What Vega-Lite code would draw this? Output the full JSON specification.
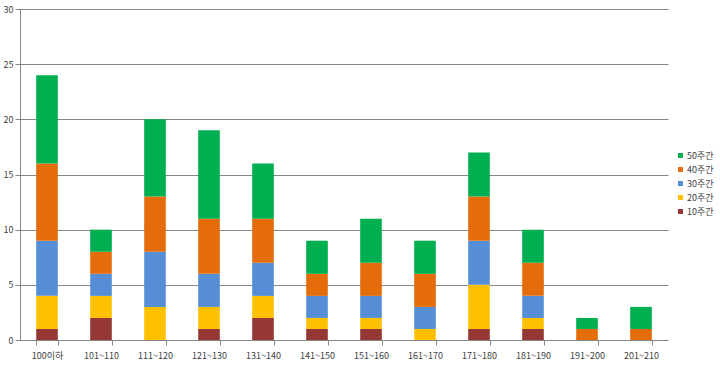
{
  "$schema": "https://vega.github.io/schema/vega-lite/v6.json",
  "width": 648,
  "height": 331,
  "autosize": {"type": "none"},
  "padding": {"left": 20, "top": 9, "right": 52, "bottom": 26},
  "background": "white",
  "config": {
    "view": {"stroke": null},
    "font": "Noto Sans CJK KR"
  },
  "data": {
    "values": [
      {"g": "100이하", "s": "10주간", "v": 1}, {"g": "100이하", "s": "20주간", "v": 3}, {"g": "100이하", "s": "30주간", "v": 5}, {"g": "100이하", "s": "40주간", "v": 7}, {"g": "100이하", "s": "50주간", "v": 8},
      {"g": "101~110", "s": "10주간", "v": 2}, {"g": "101~110", "s": "20주간", "v": 2}, {"g": "101~110", "s": "30주간", "v": 2}, {"g": "101~110", "s": "40주간", "v": 2}, {"g": "101~110", "s": "50주간", "v": 2},
      {"g": "111~120", "s": "10주간", "v": 0}, {"g": "111~120", "s": "20주간", "v": 3}, {"g": "111~120", "s": "30주간", "v": 5}, {"g": "111~120", "s": "40주간", "v": 5}, {"g": "111~120", "s": "50주간", "v": 7},
      {"g": "121~130", "s": "10주간", "v": 1}, {"g": "121~130", "s": "20주간", "v": 2}, {"g": "121~130", "s": "30주간", "v": 3}, {"g": "121~130", "s": "40주간", "v": 5}, {"g": "121~130", "s": "50주간", "v": 8},
      {"g": "131~140", "s": "10주간", "v": 2}, {"g": "131~140", "s": "20주간", "v": 2}, {"g": "131~140", "s": "30주간", "v": 3}, {"g": "131~140", "s": "40주간", "v": 4}, {"g": "131~140", "s": "50주간", "v": 5},
      {"g": "141~150", "s": "10주간", "v": 1}, {"g": "141~150", "s": "20주간", "v": 1}, {"g": "141~150", "s": "30주간", "v": 2}, {"g": "141~150", "s": "40주간", "v": 2}, {"g": "141~150", "s": "50주간", "v": 3},
      {"g": "151~160", "s": "10주간", "v": 1}, {"g": "151~160", "s": "20주간", "v": 1}, {"g": "151~160", "s": "30주간", "v": 2}, {"g": "151~160", "s": "40주간", "v": 3}, {"g": "151~160", "s": "50주간", "v": 4},
      {"g": "161~170", "s": "10주간", "v": 0}, {"g": "161~170", "s": "20주간", "v": 1}, {"g": "161~170", "s": "30주간", "v": 2}, {"g": "161~170", "s": "40주간", "v": 3}, {"g": "161~170", "s": "50주간", "v": 3},
      {"g": "171~180", "s": "10주간", "v": 1}, {"g": "171~180", "s": "20주간", "v": 4}, {"g": "171~180", "s": "30주간", "v": 4}, {"g": "171~180", "s": "40주간", "v": 4}, {"g": "171~180", "s": "50주간", "v": 4},
      {"g": "181~190", "s": "10주간", "v": 1}, {"g": "181~190", "s": "20주간", "v": 1}, {"g": "181~190", "s": "30주간", "v": 2}, {"g": "181~190", "s": "40주간", "v": 3}, {"g": "181~190", "s": "50주간", "v": 3},
      {"g": "191~200", "s": "10주간", "v": 0}, {"g": "191~200", "s": "20주간", "v": 0}, {"g": "191~200", "s": "30주간", "v": 0}, {"g": "191~200", "s": "40주간", "v": 1}, {"g": "191~200", "s": "50주간", "v": 1},
      {"g": "201~210", "s": "10주간", "v": 0}, {"g": "201~210", "s": "20주간", "v": 0}, {"g": "201~210", "s": "30주간", "v": 0}, {"g": "201~210", "s": "40주간", "v": 1}, {"g": "201~210", "s": "50주간", "v": 2}
    ]
  },
  "mark": {"type": "bar"},
  "encoding": {
    "x": {
      "field": "g", "type": "nominal", "sort": null,
      "scale": {"paddingInner": 0.6, "paddingOuter": 0.3},
      "axis": {
        "title": null, "labelAngle": 0, "labelFontSize": 9, "labelColor": "#404040",
        "tickBand": "extent", "tickSize": 5, "tickColor": "#868686", "domainColor": "#868686",
        "labelPadding": 6, "grid": false
      }
    },
    "y": {
      "field": "v", "type": "quantitative", "aggregate": "sum", "stack": "zero",
      "scale": {"domain": [0, 30]},
      "axis": {
        "title": null, "values": [0, 5, 10, 15, 20, 25, 30], "labelFontSize": 9, "labelColor": "#404040",
        "tickSize": 5, "tickColor": "#868686", "domainColor": "#868686",
        "gridColor": "#868686", "labelPadding": 2
      }
    },
    "color": {
      "field": "s", "type": "nominal",
      "scale": {
        "domain": ["10주간", "20주간", "30주간", "40주간", "50주간"],
        "range": ["#953735", "#FFC000", "#558ED5", "#E46C0A", "#00B050"]
      },
      "legend": {
        "title": null, "orient": "none", "legendX": 656, "legendY": 142,
        "sort": "descending", "values": ["50주간", "40주간", "30주간", "20주간", "10주간"],
        "symbolType": "square", "symbolSize": 25, "labelFontSize": 9, "labelColor": "#404040",
        "rowPadding": 4, "symbolOffset": 0, "labelOffset": 2
      }
    },
    "order": {"field": "s", "sort": "ascending"}
  }
}
